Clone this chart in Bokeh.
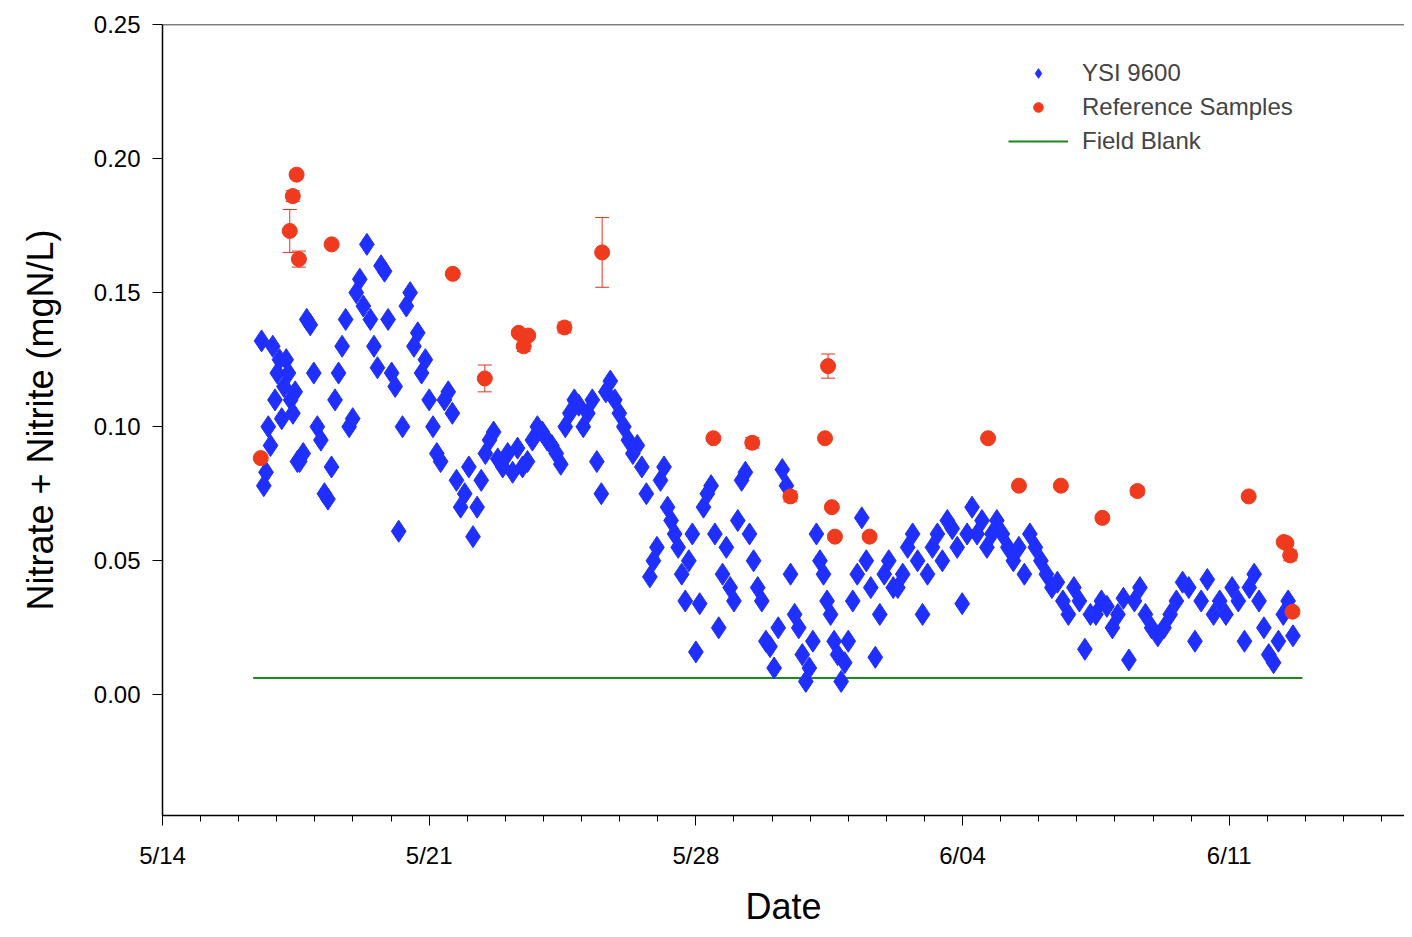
import numpy as np
from bokeh.plotting import figure
from bokeh.models import ColumnDataSource, Whisker, FixedTicker, Legend, LegendItem, Span
from bokeh.embed import file_html
from bokeh.resources import INLINE

# days since 5/14
tick_days = [0, 7, 14, 21, 28]
tick_labels = ["5/14", "5/21", "5/28", "6/04", "6/11"]

# YSI 9600 readings, grouped by time segment (start day, end day, values)
ysi_segments = [
    (2.6, 3.6, [0.132, 0.078, 0.083, 0.10, 0.093, 0.13, 0.11, 0.12, 0.125, 0.103, 0.115, 0.125, 0.12, 0.11, 0.105, 0.113, 0.087]),
    (3.6, 4.9, [0.087, 0.09, 0.14, 0.138, 0.12, 0.1, 0.095, 0.075, 0.073, 0.085, 0.11, 0.12, 0.13, 0.14]),
    (4.9, 6.2, [0.10, 0.103, 0.15, 0.155, 0.145, 0.168, 0.14, 0.13, 0.122, 0.16, 0.158, 0.14, 0.12, 0.115]),
    (6.2, 7.5, [0.061, 0.1, 0.145, 0.15, 0.13, 0.135, 0.12, 0.125, 0.11, 0.1, 0.09, 0.087, 0.11]),
    (7.5, 8.8, [0.113, 0.105, 0.08, 0.07, 0.075, 0.085, 0.059, 0.07, 0.08, 0.09, 0.095, 0.098]),
    (8.8, 10.1, [0.088, 0.085, 0.09, 0.083, 0.092, 0.085, 0.087, 0.095, 0.1, 0.098]),
    (10.1, 11.4, [0.095, 0.093, 0.09, 0.086, 0.1, 0.105, 0.11, 0.108, 0.1, 0.105, 0.11]),
    (11.4, 12.7, [0.087, 0.075, 0.113, 0.117, 0.11, 0.105, 0.1, 0.095, 0.09, 0.093, 0.085]),
    (12.7, 14.0, [0.075, 0.044, 0.05, 0.055, 0.08, 0.085, 0.07, 0.065, 0.06, 0.055, 0.045, 0.035, 0.05, 0.06]),
    (14.0, 15.3, [0.016, 0.034, 0.07, 0.075, 0.078, 0.06, 0.025, 0.045, 0.055, 0.04, 0.035, 0.065, 0.08]),
    (15.3, 16.7, [0.083, 0.06, 0.05, 0.04, 0.035, 0.02, 0.018, 0.01, 0.025, 0.084, 0.078, 0.045, 0.03]),
    (16.7, 18.0, [0.025, 0.015, 0.005, 0.01, 0.02, 0.06, 0.05, 0.045, 0.035, 0.03, 0.02, 0.015, 0.005, 0.012]),
    (18.0, 19.3, [0.02, 0.035, 0.045, 0.066, 0.05, 0.04, 0.014, 0.03, 0.045, 0.05, 0.04]),
    (19.3, 20.6, [0.04, 0.045, 0.055, 0.06, 0.05, 0.03, 0.045, 0.055, 0.06, 0.05]),
    (20.6, 21.9, [0.065, 0.062, 0.055, 0.034, 0.06, 0.07, 0.06, 0.065, 0.055, 0.06]),
    (21.9, 23.2, [0.065, 0.06, 0.055, 0.05, 0.055, 0.045, 0.06, 0.055, 0.05]),
    (23.2, 24.5, [0.045, 0.04, 0.042, 0.035, 0.03, 0.04, 0.035, 0.017, 0.03]),
    (24.5, 25.8, [0.03, 0.035, 0.033, 0.025, 0.03, 0.036, 0.013, 0.035, 0.04]),
    (25.8, 27.1, [0.03, 0.025, 0.022, 0.025, 0.03, 0.035, 0.042, 0.04]),
    (27.1, 28.4, [0.02, 0.035, 0.043, 0.03, 0.035, 0.03, 0.04, 0.035]),
    (28.4, 29.8, [0.02, 0.04, 0.045, 0.035, 0.025, 0.015, 0.012, 0.02, 0.03, 0.035, 0.022]),
]

ref_day = [2.58, 3.34, 3.42, 3.52, 3.58, 4.44, 7.62, 8.46, 9.35, 9.48, 9.6, 10.55, 11.54,
           14.46, 15.48, 16.48, 17.39, 17.47, 17.57, 17.65, 18.56, 21.67, 22.48, 23.58,
           24.67, 25.59, 28.51, 29.43, 29.5, 29.6, 29.66]
ref_val = [0.0883, 0.173, 0.186, 0.194, 0.1625, 0.168, 0.157, 0.118, 0.135, 0.130, 0.134, 0.137, 0.165,
           0.0957, 0.094, 0.074, 0.0957, 0.1226, 0.070, 0.059, 0.059, 0.0957, 0.078, 0.078,
           0.066, 0.076, 0.074, 0.057, 0.0566, 0.052, 0.031]
ref_err = [0.0, 0.008, 0.002, 0.0, 0.003, 0.0, 0.0, 0.005, 0.0, 0.002, 0.0, 0.002, 0.013,
           0.0, 0.002, 0.002, 0.0, 0.0045, 0.0, 0.0, 0.0, 0.0, 0.0, 0.0,
           0.0, 0.0015, 0.0, 0.0, 0.0, 0.002, 0.0]

blank_days = [2.38, 29.92]
blank_val = [0.0063, 0.0063]

ysi_x, ysi_y = [], []
for a, b, vals in ysi_segments:
    ysi_x.extend(np.linspace(a, b, len(vals), endpoint=False))
    ysi_y.extend(vals)

FONT = "Liberation Sans"
p = figure(width=1404, height=929, x_range=(0, 32.6), y_range=(-0.045, 0.25),
           output_backend="svg", toolbar_location=None,
           min_border_left=162, min_border_right=0, min_border_top=24, min_border_bottom=110)
p.grid.grid_line_color = None
p.outline_line_color = None
p.add_layout(Span(location=0.25, dimension="width", line_color="black", line_width=1.5))

p.line(blank_days, blank_val, color="#1a8a1a", line_width=2)
r_ysi = p.scatter(ysi_x, ysi_y, marker="diamond", size=22, color="#1f2fff", line_color="#1f2fff")

src = ColumnDataSource(dict(x=ref_day, y=ref_val,
                            lo=[v - e for v, e in zip(ref_val, ref_err)],
                            hi=[v + e for v, e in zip(ref_val, ref_err)]))
w = Whisker(source=src, base="x", lower="lo", upper="hi", line_color="#e8321e", line_width=1)
w.upper_head.line_color = "#e8321e"
w.lower_head.line_color = "#e8321e"
w.upper_head.size = 14
w.lower_head.size = 14
p.add_layout(w)
r_ref = p.scatter("x", "y", source=src, size=15, color="#f03a1e", line_color="#f03a1e")
r_blank = p.line([0], [0], color="#1a8a1a", line_width=2, visible=False)

p.xaxis.ticker = FixedTicker(ticks=tick_days, minor_ticks=list(range(0, 33)))
p.xaxis.major_label_overrides = {d: l for d, l in zip(tick_days, tick_labels)}
p.yaxis.ticker = FixedTicker(ticks=[0, 0.05, 0.10, 0.15, 0.20, 0.25])
p.yaxis.major_label_overrides = {0: "0.00", 0.05: "0.05", 0.10: "0.10", 0.15: "0.15", 0.20: "0.20", 0.25: "0.25"}
p.axis.major_tick_in = 0
p.axis.major_tick_out = 10
p.axis.minor_tick_in = 0
p.axis.minor_tick_out = 6
p.yaxis.minor_tick_line_color = None
p.axis.axis_line_width = 1.5
p.axis.major_label_text_font = FONT
p.axis.major_label_text_font_size = "24px"
p.axis.major_label_text_color = "black"
p.xaxis.major_label_standoff = 16
p.yaxis.major_label_standoff = 12
p.axis.axis_label_text_font = FONT
p.axis.axis_label_text_font_style = "normal"
p.axis.axis_label_text_font_size = "36px"
p.axis.axis_label_text_color = "black"
p.xaxis.axis_label_standoff = 14
p.yaxis.axis_label_standoff = 30
p.xaxis.axis_label = "Date"
p.yaxis.axis_label = "Nitrate + Nitrite (mgN/L)"

legend = Legend(items=[LegendItem(label="YSI 9600", renderers=[r_ysi]),
                       LegendItem(label="Reference Samples", renderers=[r_ref]),
                       LegendItem(label="Field Blank", renderers=[r_blank])],
                location=(846, 660), border_line_color=None, background_fill_alpha=0,
                label_text_font=FONT, label_text_font_size="24px",
                glyph_width=60, glyph_height=24, spacing=6, label_standoff=14)
p.add_layout(legend, "center")

open("out.html", "w").write(file_html(p, INLINE))
